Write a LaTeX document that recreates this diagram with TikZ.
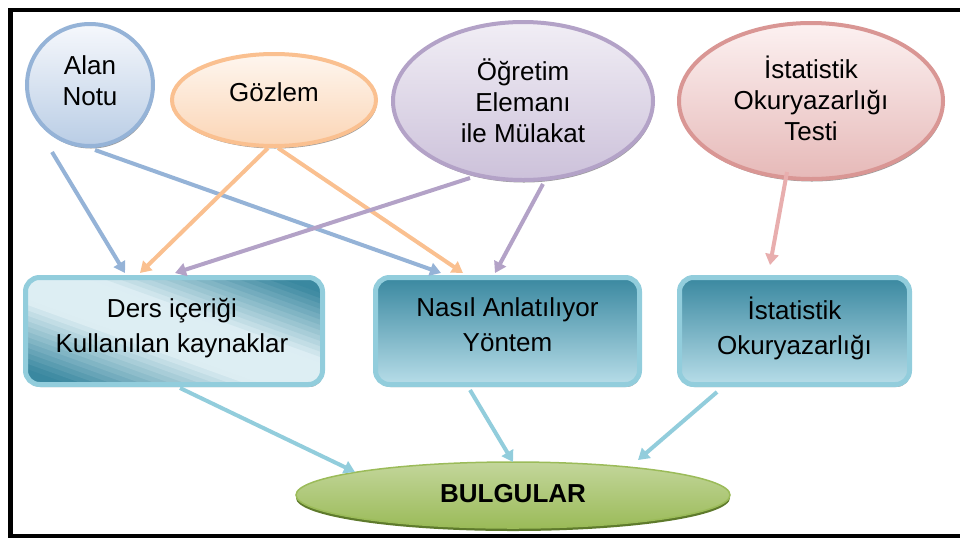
\documentclass[tikz,border=0pt]{standalone}
\usepackage{fontspec}
\setmainfont{Liberation Sans}
\usetikzlibrary{arrows.meta,shapes.geometric,shadows,calc}
\definecolor{bluL}{HTML}{95B3D7}
\definecolor{bluT}{HTML}{F6F8FC}
\definecolor{bluB}{HTML}{B9CDE5}
\definecolor{orgL}{HTML}{FAC090}
\definecolor{orgT}{HTML}{FEF6EF}
\definecolor{orgB}{HTML}{FBD5B5}
\definecolor{purL}{HTML}{B3A2C7}
\definecolor{purT}{HTML}{F1EEF5}
\definecolor{purB}{HTML}{CCC1DA}
\definecolor{pnkL}{HTML}{D99694}
\definecolor{pnkT}{HTML}{FCF1F1}
\definecolor{pnkB}{HTML}{E6B9B8}
\definecolor{pnkA}{HTML}{E8AEAE}
\definecolor{tealB}{HTML}{92CDDC}
\definecolor{tealD}{HTML}{3A88A0}
\definecolor{tealL}{HTML}{B7DDE8}
\definecolor{tealX}{HTML}{DDEEF3}
\definecolor{grnT}{HTML}{C3D69B}
\definecolor{grnB}{HTML}{9BBB59}
\definecolor{grnS}{HTML}{5E7A2C}
\begin{document}
\begin{tikzpicture}[x=1pt,y=-1pt,
  txt/.style={font=\fontsize{26}{31}\selectfont, align=center, inner sep=0pt},
  btxt/.style={font=\fontsize{26}{35}\selectfont, align=center, inner sep=0pt},
  oval/.style={ellipse, draw=#1, line width=4pt, inner sep=0pt,
    drop shadow={shadow xshift=1pt, shadow yshift=-2.5pt, fill=black!55, opacity=.7}},
  box/.style={rectangle, rounded corners=14pt, draw=tealB, line width=5pt,
    minimum height=107pt, inner sep=0pt,
    drop shadow={shadow xshift=1pt, shadow yshift=-2.5pt, fill=black!55, opacity=.6}},
  arr/.style={line width=4pt, -{Triangle[width=13pt,length=11pt]}}]
\useasboundingbox (0,0) rectangle (960,539);
% frame
\draw[line width=4.5pt] (962,10) -- (10.5,10) -- (10.5,536) -- (962,536);
% source ellipses
\node[oval=bluL, top color=bluT, bottom color=bluB, minimum width=126pt, minimum height=122pt] (alan) at (90,85) {};
\node[txt] (alant) at (90,81) {Alan\\Notu};
\node[oval=orgL, top color=orgT, bottom color=orgB, minimum width=204pt, minimum height=92pt] (goz) at (274,100) {};
\node[txt] (gozt) at (274,92) {Gözlem};
\node[oval=purL, top color=purT, bottom color=purB, minimum width=260pt, minimum height=158pt] (ogr) at (523,101) {};
\node[txt] (ogrt) at (523,101) {Öğretim\\Elemanı\\ile Mülakat};
\node[oval=pnkL, top color=pnkT, bottom color=pnkB, minimum width=264pt, minimum height=156pt] (ist) at (811,101) {};
\node[txt] (istt) at (811,98) {İstatistik\\Okuryazarlığı\\Testi};
% boxes
\node[box, minimum width=297pt, fill=tealX,
  path picture={
    \coordinate (pc) at (path picture bounding box.center);
    \coordinate (pse) at (path picture bounding box.south east);
    \coordinate (pne) at (path picture bounding box.north east);
    \begin{scope}[x={($(pse)-(pc)$)}, y={($(pne)-(pc)$)}, shift={(pc)}]
      \foreach \d in {-1.15,-1.1,...,1.1}{
        \pgfmathsetmacro\p{max(0,min(100,(abs(\d+0.025)-0.22)/0.63*100))}
        \pgfmathsetmacro\e{\d+0.056}
        \fill[tealD!\p!tealX] (-1.6,\d) -- (1.6,\d) -- (1.6,\e) -- (-1.6,\e) -- cycle;
      }
    \end{scope}}]
  (ders) at (174,331) {};
\node[btxt] (derst) at (172,328) {Ders içeriği\\Kullanılan kaynaklar};
\node[box, minimum width=264pt, top color=tealD, bottom color=tealL] (nasil) at (507.5,331) {};
\node[btxt] (nasilt) at (507.5,325) {Nasıl Anlatılıyor\\Yöntem};
\node[box, minimum width=230pt, top color=tealD, bottom color=tealL] (istb) at (794.5,331) {};
\node[btxt] (istbt) at (794.5,328) {İstatistik\\Okuryazarlığı};
% result
\node[ellipse, draw=grnB, line width=1.5pt, top color=grnT, bottom color=grnB, inner sep=0pt,
  minimum width=434pt, minimum height=66pt,
  drop shadow={shadow xshift=0pt, shadow yshift=-3pt, fill=grnS, opacity=1}] (bul) at (513,495) {};
\node[txt, font=\fontsize{26}{32}\selectfont\bfseries] (bult) at (513,494) {BULGULAR};
% arrows
\draw[arr, draw=bluL] ($(alan.center)+(-38,67)$) -- ($(ders.center)+(-49,-58)$);
\draw[arr, draw=bluL] ($(alan.center)+(5,65)$) -- ($(nasil.center)+(-66.5,-58)$);
\draw[arr, draw=orgL] ($(goz.center)+(-6,48)$) -- ($(ders.center)+(-34,-58)$);
\draw[arr, draw=orgL] ($(goz.center)+(4,48)$) -- ($(nasil.center)+(-44.5,-58)$);
\draw[arr, draw=purL] ($(ogr.center)+(-53,77)$) -- ($(ders.center)+(1,-58)$);
\draw[arr, draw=purL] ($(ogr.center)+(20,83)$) -- ($(nasil.center)+(-12.5,-58)$);
\draw[arr, draw=pnkA] ($(ist.center)+(-24,71)$) -- ($(istb.center)+(-24.5,-66)$);
\draw[arr, draw=tealB] ($(ders.center)+(6,57)$) -- ($(bul.center)+(-158,-23)$);
\draw[arr, draw=tealB] ($(nasil.center)+(-37.5,59)$) -- ($(bul.center)+(0,-33)$);
\draw[arr, draw=tealB] ($(istb.center)+(-77.5,61)$) -- ($(bul.center)+(125,-35)$);
\end{tikzpicture}
\end{document}
